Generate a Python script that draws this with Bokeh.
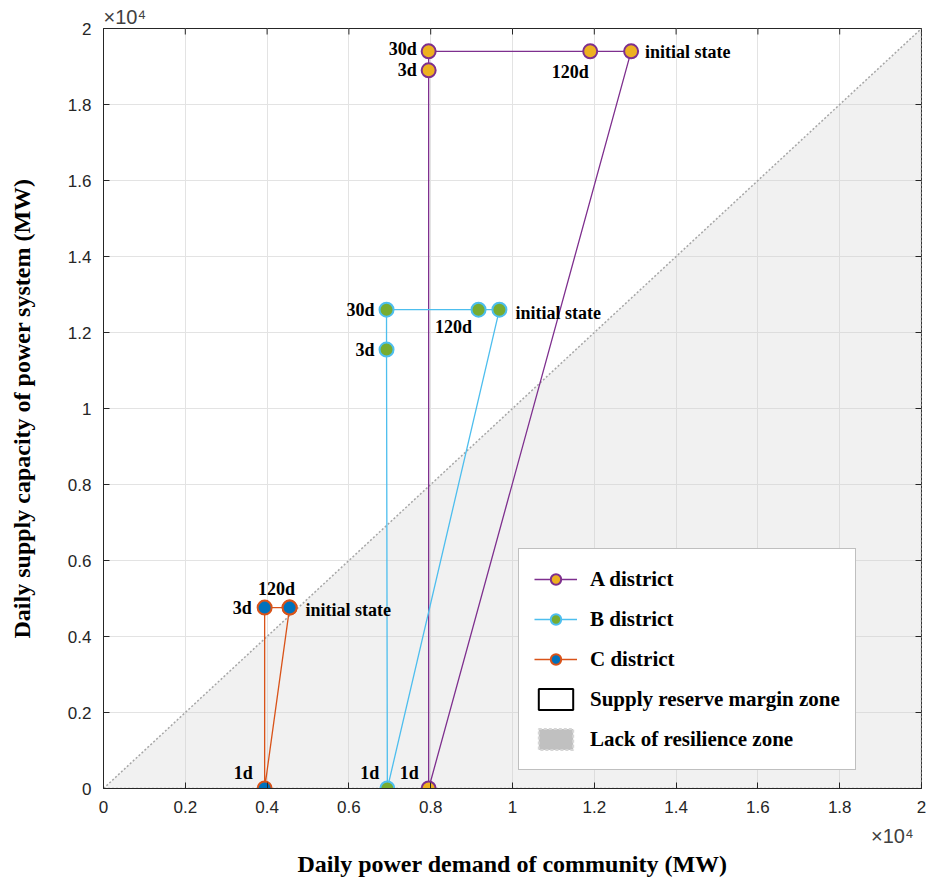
import math
from bokeh.plotting import figure
from bokeh.models import (ColumnDataSource, Legend, LegendItem, Title, FixedTicker, Range1d)
from bokeh.embed import file_html
from bokeh.resources import INLINE
from bokeh.core.properties import value

# ---------------- data (MW) ----------------
stage_A = ["initial state", "1d", "3d", "30d", "120d"]
A_demand = [12900, 7950, 7950, 7950, 11900]
A_supply = [19400, 0, 18900, 19400, 19400]

stage_B = ["initial state", "1d", "3d", "30d", "120d"]
B_demand = [9680, 6940, 6920, 6920, 9170]
B_supply = [12600, 0, 11550, 12600, 12600]

stage_C = ["initial state", "1d", "3d", "120d"]
C_demand = [4550, 3940, 3940, 4550]
C_supply = [4760, 0, 4760, 4760]

ticks = [0, 2000, 4000, 6000, 8000, 10000, 12000, 14000, 16000, 18000, 20000]
tick_labels = ["0", "0.2", "0.4", "0.6", "0.8", "1", "1.2", "1.4", "1.6", "1.8", "2"]
axis_max = 20000
exponent_text = "×10⁴"

# ---------------- figure ----------------
p = figure(frame_width=818, frame_height=760,
           x_range=Range1d(0, axis_max), y_range=Range1d(0, axis_max),
           output_backend="svg", toolbar_location=None,
           min_border_left=103, min_border_right=5, min_border_top=28, min_border_bottom=90)
p.background_fill_color = "white"
p.outline_line_color = "#262626"
p.outline_line_width = 1

# lack of resilience zone (below diagonal)
p.patch([0, axis_max, axis_max], [0, axis_max, 0], fill_color="#d0d0d0", fill_alpha=0.3,
        line_color="#a6a6a6", line_dash="2 2", line_width=1.5)

TICK_FONT = "Liberation Sans"
SERIF = "Liberation Serif"
label_map = {t: l for t, l in zip(ticks, tick_labels)}

for ax in p.xaxis + p.yaxis:
    ax.ticker = FixedTicker(ticks=ticks)
    ax.major_label_overrides = label_map
    ax.major_tick_in = 6
    ax.major_tick_out = 0
    ax.minor_tick_in = 0
    ax.minor_tick_out = 0
    ax.axis_line_color = "#262626"
    ax.major_tick_line_color = "#262626"
    ax.major_label_text_font = TICK_FONT
    ax.major_label_text_font_size = "17px"
    ax.major_label_text_color = "#262626"
    ax.axis_label_text_font = SERIF
    ax.axis_label_text_font_style = "bold"
    ax.axis_label_text_font_size = "24px"
    ax.axis_label_text_color = "black"

p.yaxis.axis_label = "Daily supply capacity of power system (MW)"
p.xaxis.major_label_standoff = 12
p.yaxis.major_label_standoff = 12
p.yaxis.axis_label_standoff = 30

# exponent (top-left) as a title above the frame
p.add_layout(Title(text=exponent_text, align="left", text_font=TICK_FONT,
                   text_font_size="20px", text_font_style="normal",
                   text_color="#404040", offset=0, standoff=2), "above")
# exponent (bottom-right), then x axis label, below the tick labels
p.add_layout(Title(text=exponent_text, align="right", text_font=TICK_FONT,
                   text_font_size="20px", text_font_style="normal",
                   text_color="#404040", offset=8, standoff=14), "below")
p.add_layout(Title(text="Daily power demand of community (MW)", align="center",
                   text_font=SERIF, text_font_size="24px", text_font_style="bold",
                   text_color="black", standoff=-10), "below")

p.xgrid.ticker = FixedTicker(ticks=ticks)
p.ygrid.ticker = FixedTicker(ticks=ticks)
p.grid.grid_line_color = "#e3e3e3"
p.grid.grid_line_width = 1

# box ticks on top and right edges (half of each dash is clipped by the frame)
p.scatter(ticks, [axis_max] * len(ticks), marker="dash", size=12, angle=math.pi / 2,
          line_color="#262626", line_width=1)
p.scatter([axis_max] * len(ticks), ticks, marker="dash", size=12, angle=0,
          line_color="#262626", line_width=1)

# ---------------- districts ----------------
districts = [
    ("A district", stage_A, A_demand, A_supply, "#7E2F8E", "#EDB120"),
    ("B district", stage_B, B_demand, B_supply, "#4DBEEE", "#77AC30"),
    ("C district", stage_C, C_demand, C_supply, "#D95319", "#0072BD"),
]

# label styling offsets per (district, stage): (x_offset, y_offset, align)
offsets = {
    ("A district", "initial state"): (14, 1, "left"),
    ("A district", "120d"): (-20, 21, "center"),
    ("A district", "30d"): (-12, -2, "right"),
    ("A district", "3d"): (-12, 0, "right"),
    ("A district", "1d"): (-10, -16, "right"),
    ("B district", "initial state"): (16, 3, "left"),
    ("B district", "120d"): (-25, 17, "center"),
    ("B district", "30d"): (-12, 0, "right"),
    ("B district", "3d"): (-12, 0, "right"),
    ("B district", "1d"): (-8, -16, "right"),
    ("C district", "initial state"): (16, 2, "left"),
    ("C district", "120d"): (-13, -19, "center"),
    ("C district", "3d"): (-13, 0, "right"),
    ("C district", "1d"): (-12, -16, "right"),
}

legend_items = []
for name, stages, xs, ys, lc, fc in districts:
    lx = list(xs) + [xs[0]]
    ly = list(ys) + [ys[0]]
    r_line = p.line(lx, ly, line_color=lc, line_width=1.3)
    src = ColumnDataSource(dict(x=xs, y=ys, stage=stages))
    r_pts = p.scatter("x", "y", source=src, marker="circle", size=14,
                      fill_color=fc, line_color=lc, line_width=2)
    legend_items.append(LegendItem(label=name, renderers=[r_line, r_pts]))
    for i, st in enumerate(stages):
        xo, yo, al = offsets[(name, st)]
        p.text([xs[i]], [ys[i]], text=[st], x_offset=xo, y_offset=yo,
               text_align=al, text_baseline="middle",
               text_font=value(SERIF), text_font_style="bold",
               text_font_size="18px", text_color="black")

nan = float("nan")
r_zone1 = p.quad(left=[nan], right=[nan], top=[nan], bottom=[nan], fill_color="white",
                 line_color="black", line_width=2)
r_zone2 = p.quad(left=[nan], right=[nan], top=[nan], bottom=[nan], fill_color="#c0c0c0",
                 line_color="#d6d6d6", line_dash="3 2", line_width=2)
legend_items.append(LegendItem(label="Supply reserve margin zone", renderers=[r_zone1]))
legend_items.append(LegendItem(label="Lack of resilience zone", renderers=[r_zone2]))

legend = Legend(items=legend_items, location=(415, 18))
legend.label_text_font = SERIF
legend.label_text_font_style = "bold"
legend.label_text_font_size = "21px"
legend.label_text_color = "black"
legend.glyph_width = 43
legend.glyph_height = 26
legend.label_height = 30
legend.spacing = 10
legend.padding = 15
legend.margin = 0
legend.label_standoff = 13
legend.border_line_color = "#808080"
legend.border_line_width = 1.5
legend.background_fill_color = "white"
legend.background_fill_alpha = 1
p.add_layout(legend, "center")

open("out.html", "w").write(file_html(p, INLINE))
